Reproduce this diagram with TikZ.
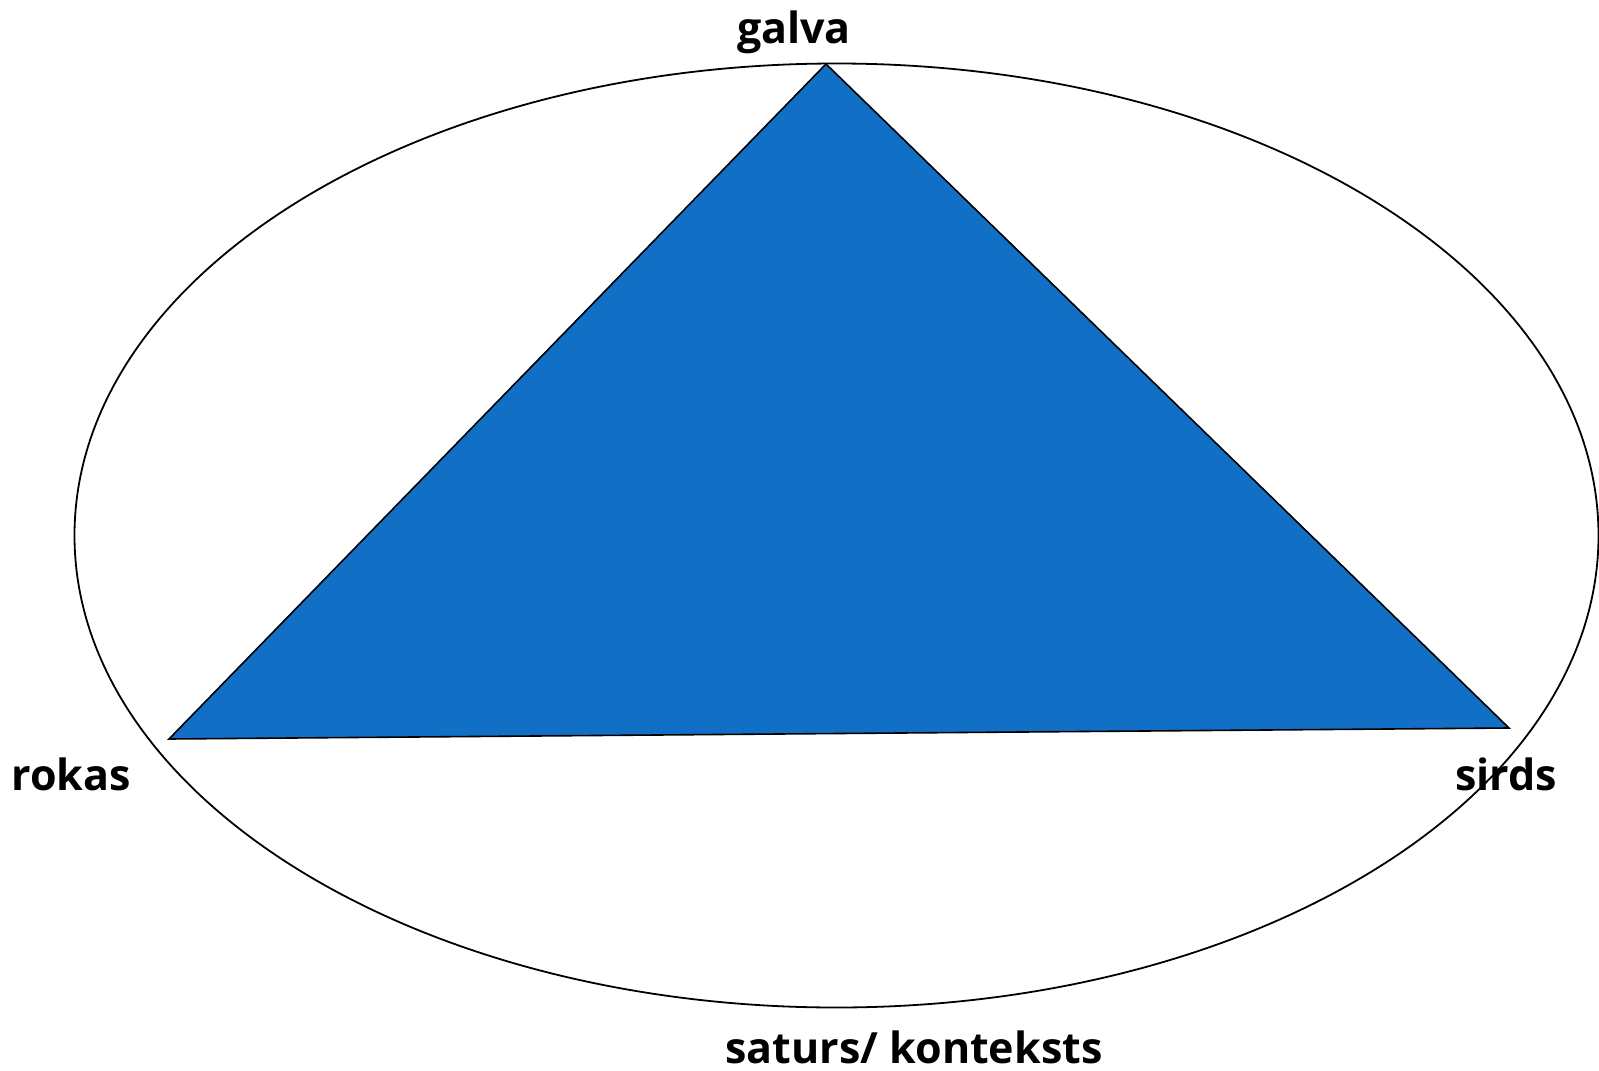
\documentclass[tikz,border=0pt]{standalone}
\usepackage{fontspec}
\setmainfont{Open Sans}
\definecolor{triblue}{HTML}{1170C6}
\begin{document}
\begin{tikzpicture}[x=1pt,y=-1pt,
  lbl/.style={font=\bfseries\fontsize{43}{50}\selectfont, anchor=base, inner sep=0pt},
  ring/.style={draw=black, line width=1.8pt},
  tri/.style={draw=black, fill=triblue, line width=1.6pt, line join=miter}]
\useasboundingbox (0,0) rectangle (1599,1071);
\coordinate (top) at (826,64);
\coordinate (left) at (169,739);
\coordinate (right) at (1509,728);
\draw[ring] (836.5,535.5) ellipse [x radius=762, y radius=472];
\draw[tri] (top) -- (right) -- (left) -- cycle;
\node[lbl] (galva) at (794,43) {galva};
\node[lbl] (rokas) at (71,790) {rokas};
\node[lbl] (sirds) at (1506,790) {sirds};
\node[lbl] (saturs) at (914,1063) {saturs/ konteksts};
\end{tikzpicture}
\end{document}
